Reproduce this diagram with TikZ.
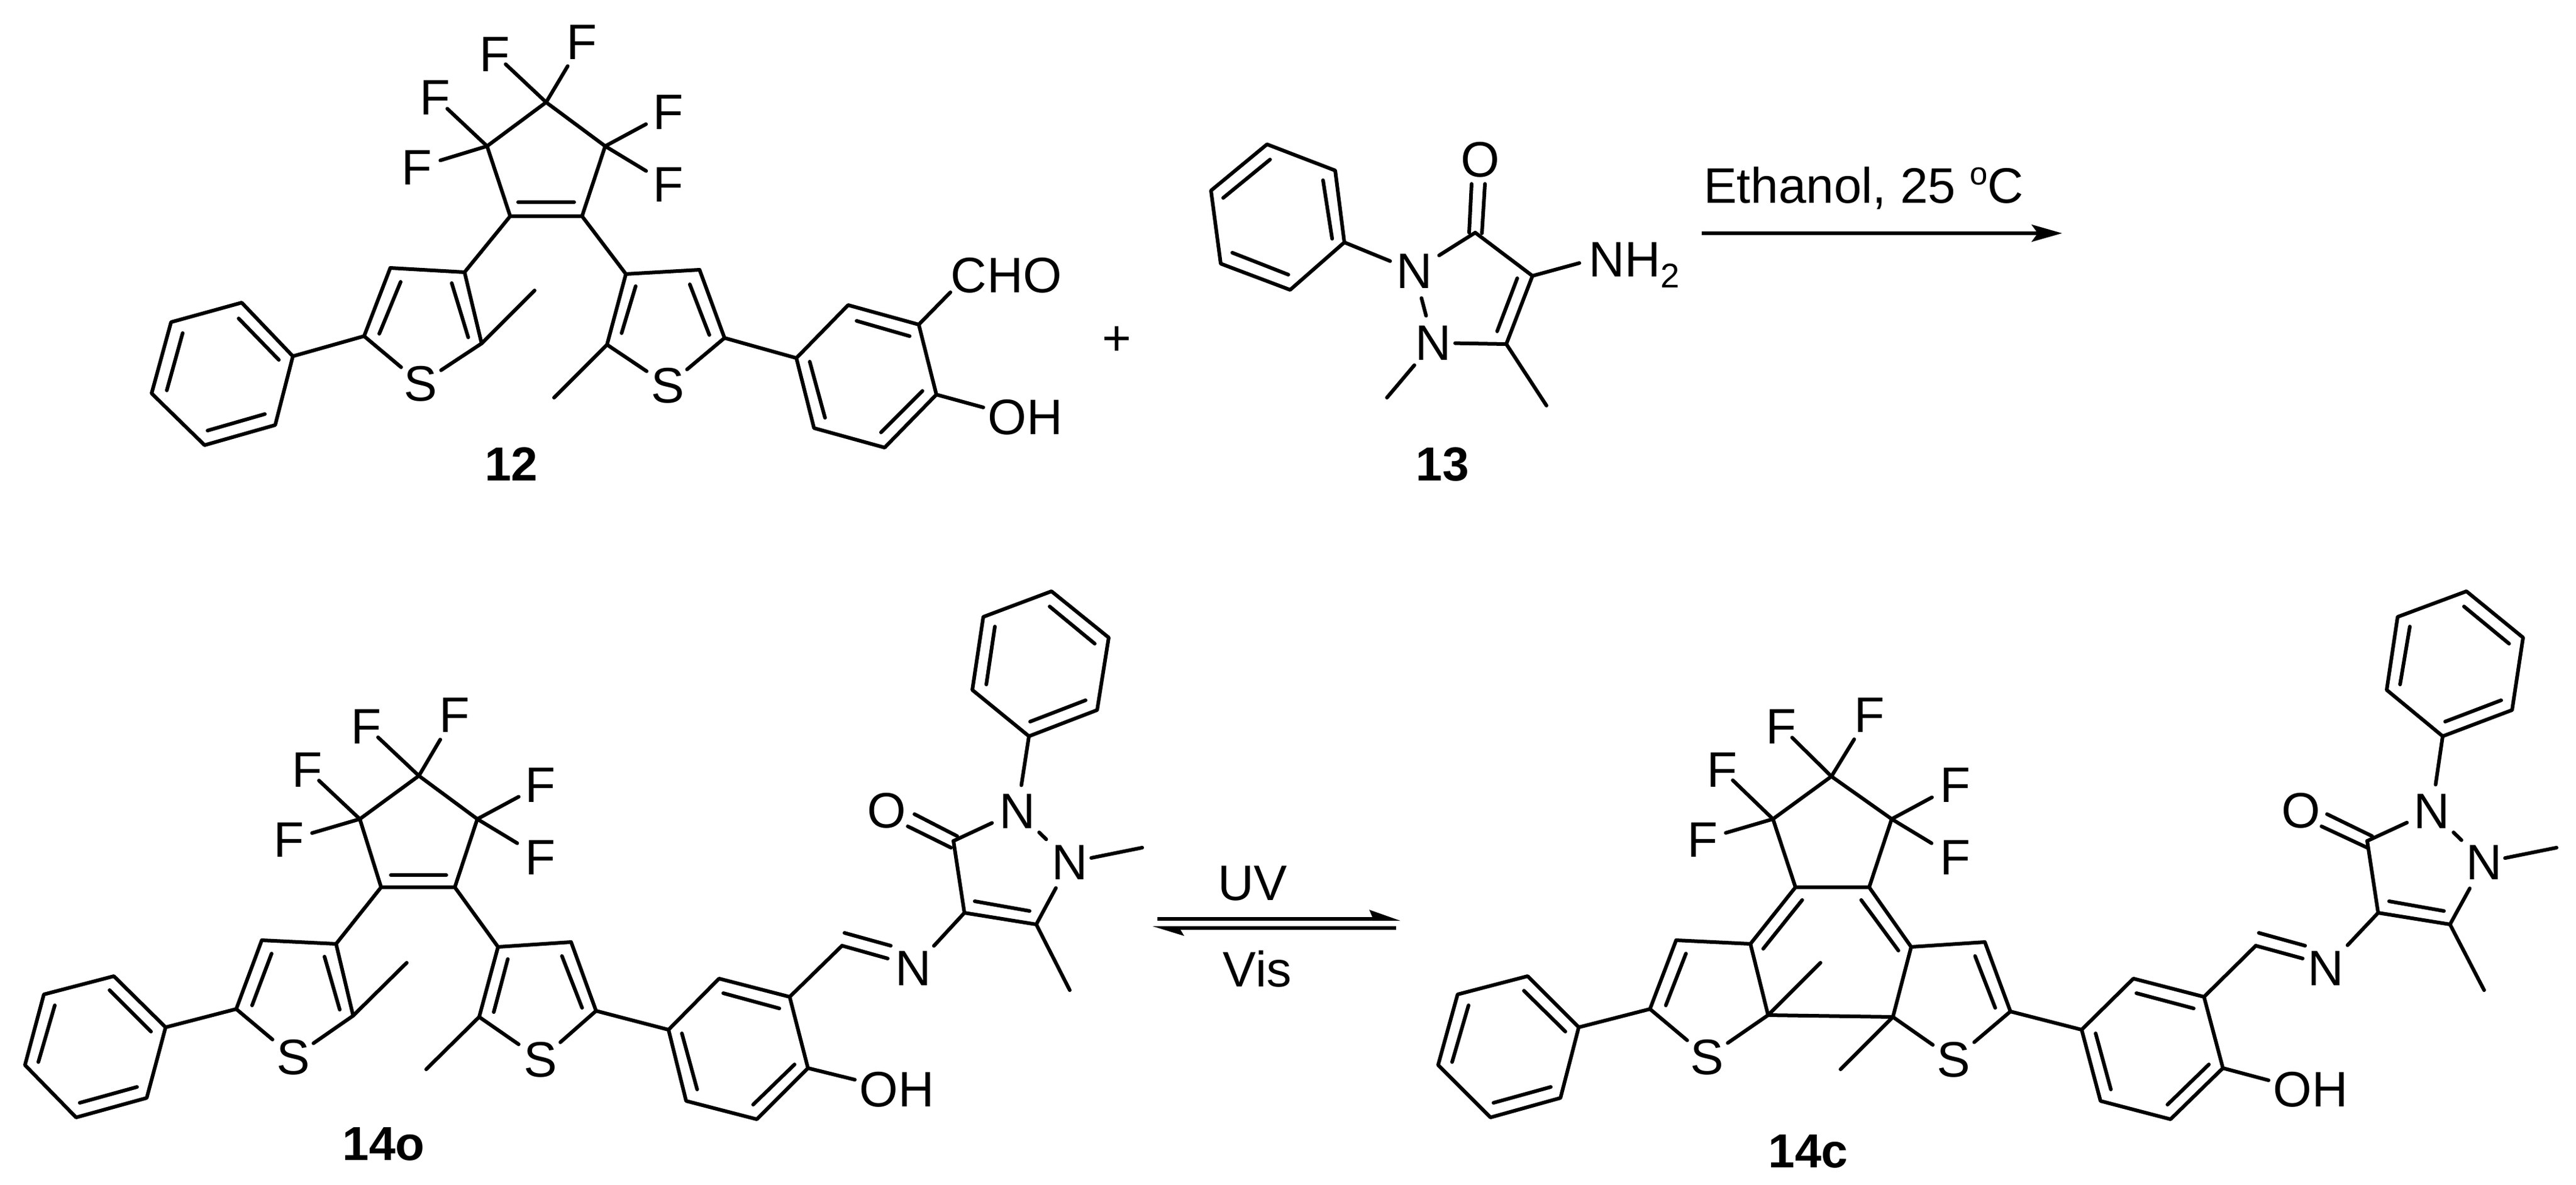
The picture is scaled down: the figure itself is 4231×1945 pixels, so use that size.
\documentclass[tikz,border=0pt]{standalone}
\usepackage{fontspec}
\setmainfont{Liberation Sans}
\usetikzlibrary{arrows.meta}
\tikzset{
  bond/.style={line width=0.06cm,line join=round,line cap=round,black},
  atom/.style={inner sep=0pt,outer sep=0pt,font=\fontsize{23.3}{28}\selectfont},
  cmpd/.style={inner sep=0pt,outer sep=0pt,font=\fontsize{22.3}{27}\selectfont\bfseries},
  rxn/.style={line width=0.06cm,black},
  fullhead/.style={-{Stealth[length=0.5cm,width=0.28cm,inset=0.1cm]}}
}
\newcommand{\Bto}[3]{\draw[bond,shorten >=#3*0.01cm] (#1) -- (#2.center);}
\newcommand{\Bbt}[4]{\draw[bond,shorten <=#3*0.01cm,shorten >=#4*0.01cm] (#1.center) -- (#2.center);}
\newcommand{\Mk}[1]{\foreach \n/\p in {#1} {\coordinate (\n) at (\p);}}
\newcommand{\Poly}[1]{\draw[bond] #1 -- cycle;}
\newcommand{\Inner}[1]{\foreach \u/\v in {#1} {\draw[bond] (\u) -- (\v);}}
\begin{document}
\begin{tikzpicture}[x=0.01cm,y=-0.01cm]
\useasboundingbox (0,0) rectangle (4231,1945);

% ===== compound 12 =====
\Mk{aT/{897,168},aL/{800,240},aR/{994,240},aDL/{838,355},aDR/{956,355},
 a3/{763,447},a4/{641,440},a5/{598,552},a2/{791,564},aMe/{878,477},
 aP1/{481,585},aP2/{397,497},aP3/{281,529},aP4/{249,646},aP5/{336,731},aP6/{452,698},
 b3/{1028,450},b4/{1149,443},b5/{1190,555},b2/{997,566},bMe/{910,653},
 aA1/{1308,588},aA2/{1393,501},aA3/{1509,533},aA4/{1538,648},aA5/{1453,735},aA6/{1337,703},
 aCe/{1561,480},aOe/{1615,669}}
\node[atom] (aF1) at (813,89) {F};
\node[atom] (aF2) at (956,69) {F};
\node[atom] (aF3) at (715,160) {F};
\node[atom] (aF4) at (685,275) {F};
\node[atom] (aF5) at (1098,184) {F};
\node[atom] (aF6) at (1098,303) {F};
\node[atom] (aS1) at (691,630) {S};
\node[atom] (aS2) at (1097,633) {S};
\node[atom] (aCHO) at (1653,452) {CHO};
\node[atom] (aOH) at (1684,685) {OH};
\node[atom] (plus) at (1834,560) {+};
\node[cmpd] (l12) at (840,762) {12};
\Poly{(aT) -- (aR) -- (aDR) -- (aDL) -- (aL)}
\Inner{{851,332}/{943,332}}
\Bto{aT}{aF1}{24}\Bto{aT}{aF2}{46}\Bto{aL}{aF3}{27}\Bto{aL}{aF4}{40}\Bto{aR}{aF5}{42}\Bto{aR}{aF6}{43}
\draw[bond] (aDL) -- (a3) -- (a4) -- (a5);
\draw[bond] (a3) -- (a2) -- (aMe);
\Bto{a5}{aS1}{42}\Bto{a2}{aS1}{40}
\Inner{{658,463}/{623,548},{742,465}/{769,554},{392,523}/{458,591},{300,547}/{274,641},{341,707}/{435,680}}
\draw[bond] (a5) -- (aP1);
\Poly{(aP1) -- (aP2) -- (aP3) -- (aP4) -- (aP5) -- (aP6)}
\draw[bond] (aDR) -- (b3) -- (b4) -- (b5);
\draw[bond] (b3) -- (b2) -- (bMe);
\Bto{b2}{aS2}{42}\Bto{b5}{aS2}{41}
\Inner{{1044,470}/{1021,547},{1133,467}/{1165,550},{1407,527}/{1494,552},{1515,642}/{1447,710},{1330,594}/{1355,686}}
\draw[bond] (b5) -- (aA1);
\Poly{(aA1) -- (aA2) -- (aA3) -- (aA4) -- (aA5) -- (aA6)}
\draw[bond] (aA3) -- (aCe);
\draw[bond] (aA4) -- (aOe);

% ===== compound 13 =====
\Mk{mP1/{2208,398},mP2/{2193,280},mP3/{2081,237},mP4/{1989,313},mP5/{2005,433},mP6/{2119,476},
 mC3/{2423,382},mC4/{2517,453},mC5/{2474,565},mMe5/{2540,666},mMeN/{2278,653},mNe/{2594,432},
 mOa/{2417,302},mOb/{2413,382},mOc/{2439,302},mOd/{2434,383}}
\node[atom] (mN1) at (2323,445) {N};
\node[atom] (mN2) at (2354,563) {N};
\node[atom] (mO) at (2431,262) {O};
\node[atom,anchor=base west] (mNH) at (2609,454) {NH\raisebox{-0.23em}{\fontsize{16}{16}\selectfont 2}};
\node[cmpd] (l13) at (2369,763) {13};
\Poly{(mP1) -- (mP2) -- (mP3) -- (mP4) -- (mP5) -- (mP6)}
\Inner{{2086,262}/{2009,325},{2173,296}/{2188,392},{2024,415}/{2116,451},{2492,457}/{2459,544},mOa/mOb,mOc/mOd}
\Bto{mP1}{mN1}{43}\Bto{mC3}{mN1}{48}
\Bbt{mN1}{mN2}{46}{46}
\Bto{mC5}{mN2}{36}
\draw[bond,shorten <=0.48cm] (mN2.center) -- (mMeN);
\draw[bond] (mC3) -- (mC4) -- (mC5) -- (mMe5);
\draw[bond] (mC4) -- (mNe);
\node[atom,anchor=base west] (cond) at (2798,333) {Ethanol, 25 \raisebox{0.36em}{\fontsize{15}{15}\selectfont o}C};
\coordinate (ar1s) at (2795,383);
\coordinate (ar1e) at (3387,383);
\draw[rxn,fullhead] (ar1s) -- (ar1e);

% ===== compound 14o =====
\Mk{cT/{688,1274},cL/{591,1345},cR/{784,1345},cDL/{626,1457},cDR/{747,1457},
 c3/{552,1550},c4/{430,1544},c5/{388,1657},c2/{580,1668},cMe/{668,1581},
 cP1/{272,1687},cP2/{187,1603},cP3/{72,1633},cP4/{41,1749},cP5/{125,1835},cP6/{241,1803},
 e3/{818,1555},e4/{938,1547},e5/{979,1660},e2/{787,1670},eMe/{700,1756},
 cA1/{1098,1691},cA2/{1181,1607},cA3/{1297,1637},cA4/{1327,1754},cA5/{1243,1838},cA6/{1127,1808},
 cCH/{1383,1553},cOe/{1404,1773},
 cR4/{1584,1499},cR5/{1702,1518},cR3/{1566,1381},cMe5/{1757,1626},cMeN/{1876,1392},
 cH1/{1690,1209},cH2/{1802,1166},cH3/{1821,1047},cH4/{1727,971},cH5/{1615,1013},cH6/{1597,1133}}
\node[atom] (cF1) at (602,1193) {F};
\node[atom] (cF2) at (747,1174) {F};
\node[atom] (cF3) at (505,1264) {F};
\node[atom] (cF4) at (475,1379) {F};
\node[atom] (cF5) at (888,1289) {F};
\node[atom] (cF6) at (888,1408) {F};
\node[atom] (cS1) at (482,1736) {S};
\node[atom] (cS2) at (888,1740) {S};
\node[atom] (cOH) at (1473,1789) {OH};
\node[atom] (cN) at (1500,1590) {N};
\node[atom] (cN1) at (1671,1332) {N};
\node[atom] (cN2) at (1757,1416) {N};
\node[atom] (cO) at (1456,1331) {O};
\node[cmpd] (l14o) at (630,1879) {14o};
\Poly{(cT) -- (cR) -- (cDR) -- (cDL) -- (cL)}
\Inner{{642,1437}/{733,1437}}
\Bto{cT}{cF1}{26}\Bto{cT}{cF2}{47}\Bto{cL}{cF3}{26}\Bto{cL}{cF4}{39}\Bto{cR}{cF5}{41}\Bto{cR}{cF6}{45}
\draw[bond] (cDL) -- (c3) -- (c4) -- (c5);
\draw[bond] (c3) -- (c2) -- (cMe);
\Bto{c5}{cS1}{45}\Bto{c2}{cS1}{40}
\Inner{{446,1566}/{414,1651},{533,1571}/{558,1658},{180,1626}/{248,1694},{90,1651}/{63,1744},{131,1811}/{225,1785}}
\draw[bond] (c5) -- (cP1);
\Poly{(cP1) -- (cP2) -- (cP3) -- (cP4) -- (cP5) -- (cP6)}
\draw[bond] (cDR) -- (e3) -- (e4) -- (e5);
\draw[bond] (e3) -- (e2) -- (eMe);
\Bto{e2}{cS2}{44}\Bto{e5}{cS2}{43}
\Inner{{834,1575}/{811,1662},{923,1570}/{956,1655},{1188,1631}/{1280,1656},{1120,1697}/{1145,1789},{1305,1748}/{1237,1814}}
\draw[bond] (e5) -- (cA1);
\Poly{(cA1) -- (cA2) -- (cA3) -- (cA4) -- (cA5) -- (cA6)}
\draw[bond] (cA3) -- (cCH);
\Inner{{1383,1553}/{1458,1574},{1387,1532}/{1463,1553},{1601,1480}/{1691,1496},{1502,1337}/{1572,1373},{1491,1357}/{1562,1392},{1692,1185}/{1783,1150},{1798,1057}/{1724,996},{1634,1029}/{1620,1124}}
\draw[bond] (cA4) -- (cOe);
\Bto{cR4}{cN}{50}
\draw[bond] (cR3) -- (cR4) -- (cR5) -- (cMe5);
\Bto{cR3}{cN1}{46}
\Bbt{cN1}{cN2}{50}{54}
\Bto{cR5}{cN2}{48}
\draw[bond,shorten <=0.36cm] (cN2.center) -- (cMeN);
\Bto{cH1}{cN1}{43}
\Poly{(cH1) -- (cH2) -- (cH3) -- (cH4) -- (cH5) -- (cH6)}

% ===== equilibrium arrows =====
\node[atom] (uv) at (2057,1451) {UV};
\node[atom] (vis) at (2065,1591) {Vis};
\coordinate (ar2s) at (1901,1509);
\coordinate (ar2e) at (2262,1509);
\coordinate (ar3s) at (2293,1524);
\coordinate (ar3e) at (1930,1524);
\draw[rxn] (ar2s) -- (ar2e);
\draw[rxn] (ar3s) -- (ar3e);
\fill[black] (2300,1512) -- (2249,1494) -- (2254,1506) -- (2254,1512) -- cycle;
\fill[black] (1893,1521) -- (1945,1537) -- (1939,1527) -- (1939,1521) -- cycle;

% ===== compound 14c =====
\Mk{dT/{3008,1275},dL/{2912,1345},dR/{3107,1345},dDL/{2949,1457},dDR/{3070,1457},
 d3/{2875,1550},d4/{2753,1544},d5/{2710,1657},d2/{2904,1667},dMe/{2990,1581},
 dP1/{2593,1687},dP2/{2509,1603},dP3/{2394,1633},dP4/{2362,1749},dP5/{2448,1835},dP6/{2563,1803},
 f3/{3139,1555},f4/{3260,1547},f5/{3302,1661},f2/{3109,1670},fMe/{3023,1756},
 dA1/{3419,1691},dA2/{3504,1607},dA3/{3620,1637},dA4/{3651,1754},dA5/{3565,1838},dA6/{3450,1808},
 dCH/{3705,1553},dOe/{3726,1774},
 dR4/{3906,1499},dR5/{4024,1518},dR3/{3888,1381},dMe5/{4080,1626},dMeN/{4199,1392},
 dH1/{4012,1209},dH2/{4126,1166},dH3/{4144,1047},dH4/{4051,971},dH5/{3938,1013},dH6/{3920,1133}}
\node[atom] (dF1) at (2925,1193) {F};
\node[atom] (dF2) at (3070,1174) {F};
\node[atom] (dF3) at (2828,1264) {F};
\node[atom] (dF4) at (2796,1379) {F};
\node[atom] (dF5) at (3211,1289) {F};
\node[atom] (dF6) at (3211,1408) {F};
\node[atom] (dS1) at (2804,1736) {S};
\node[atom] (dS2) at (3209,1740) {S};
\node[atom] (dOH) at (3795,1789) {OH};
\node[atom] (dN) at (3820,1590) {N};
\node[atom] (dN1) at (3994,1332) {N};
\node[atom] (dN2) at (4080,1416) {N};
\node[atom] (dO) at (3779,1331) {O};
\node[cmpd] (l14c) at (2970,1891) {14c};
\Poly{(dT) -- (dR) -- (dDR) -- (dDL) -- (dL)}
\Bto{dT}{dF1}{26}\Bto{dT}{dF2}{47}\Bto{dL}{dF3}{25}\Bto{dL}{dF4}{40}\Bto{dR}{dF5}{43}\Bto{dR}{dF6}{45}
\draw[bond] (dDL) -- (d3) -- (d4) -- (d5);
\draw[bond] (d3) -- (d2) -- (dMe);
\draw[bond] (d2) -- (f2);
\Bto{d5}{dS1}{43}\Bto{d2}{dS1}{41}
\Inner{{2769,1566}/{2736,1651},{2960,1478}/{2896,1558},{2503,1627}/{2571,1694},{2412,1651}/{2385,1744},{2453,1811}/{2547,1785}}
\draw[bond] (d5) -- (dP1);
\Poly{(dP1) -- (dP2) -- (dP3) -- (dP4) -- (dP5) -- (dP6)}
\draw[bond] (dDR) -- (f3) -- (f4) -- (f5);
\draw[bond] (f3) -- (f2) -- (fMe);
\Bto{f2}{dS2}{42}\Bto{f5}{dS2}{44}
\Inner{{3057,1478}/{3118,1561},{3244,1570}/{3277,1655},{3509,1631}/{3603,1656},{3442,1697}/{3467,1789},{3628,1748}/{3560,1814}}
\draw[bond] (f5) -- (dA1);
\Poly{(dA1) -- (dA2) -- (dA3) -- (dA4) -- (dA5) -- (dA6)}
\draw[bond] (dA3) -- (dCH);
\Inner{{3705,1553}/{3782,1574},{3710,1532}/{3786,1553},{3924,1480}/{4014,1496},{3822,1337}/{3896,1373},{3813,1357}/{3888,1392},{4016,1185}/{4108,1150},{4121,1057}/{4047,996},{3958,1029}/{3942,1124}}
\draw[bond] (dA4) -- (dOe);
\Bto{dR4}{dN}{52}
\draw[bond] (dR3) -- (dR4) -- (dR5) -- (dMe5);
\Bto{dR3}{dN1}{45}
\Bbt{dN1}{dN2}{50}{52}
\Bto{dR5}{dN2}{49}
\draw[bond,shorten <=0.35cm] (dN2.center) -- (dMeN);
\Bto{dH1}{dN1}{44}
\Poly{(dH1) -- (dH2) -- (dH3) -- (dH4) -- (dH5) -- (dH6)}
\end{tikzpicture}
\end{document}
